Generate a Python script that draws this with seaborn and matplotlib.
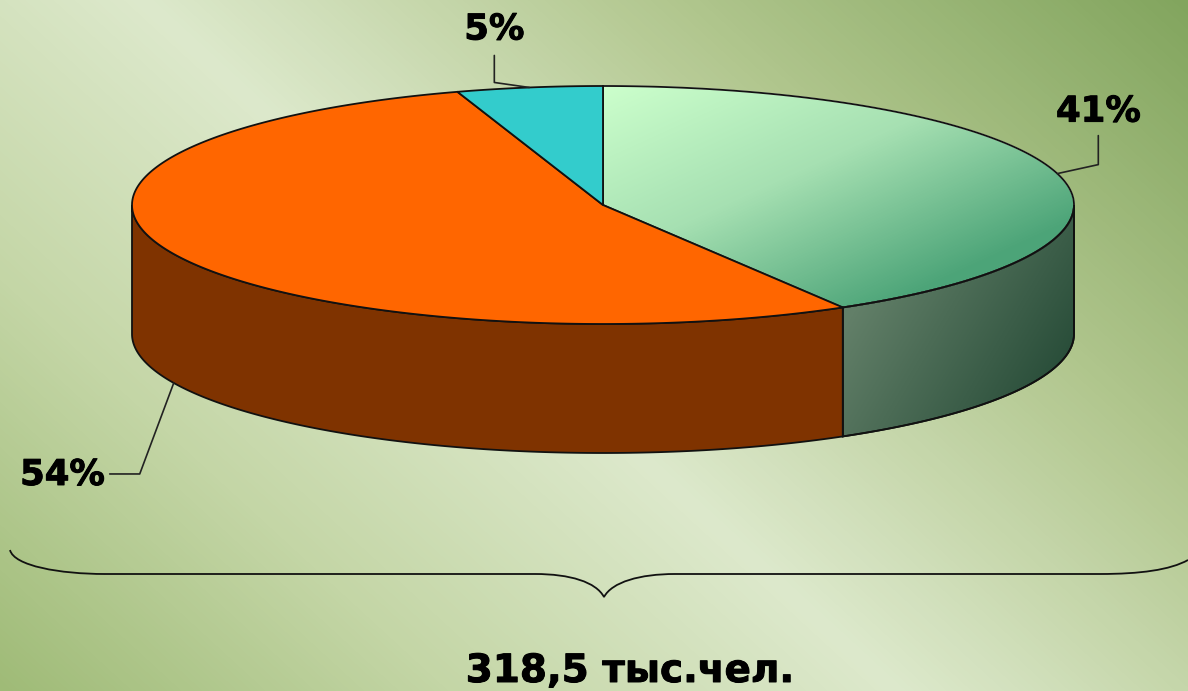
import numpy as np
import matplotlib.pyplot as plt
import matplotlib.patheffects as pe
from matplotlib.patches import PathPatch, Polygon
from matplotlib.path import Path
import seaborn as sns

# chart data (slice sizes as measured on the picture, labels as printed)
shares = [41.5, 53.5, 5]
share_labels = ["41%", "54%", "5%"]
total_label = "318,5 тыс.чел."

# pie geometry, in pixels
CX, CY = 603, 205
RX, RY = 471, 119
DEPTH = 129
W, H = 1188, 691

sns.set_theme(style="white")
plt.rcParams['font.family'] = ['DejaVu Sans']

heavy = [pe.withStroke(linewidth=0.7, foreground="black")]


def rim(t, depth=0):
    '''Point(s) on the ellipse, t in degrees clockwise from the top.'''
    t = np.radians(t)
    return np.column_stack([CX + RX * np.sin(t), CY - RY * np.cos(t) + depth])


def gradient(ax, cmap, a, b, lo, hi, clip=None):
    '''Linear gradient on u = a*x + b*y, optionally clipped to a patch.'''
    xx, yy = np.meshgrid(np.arange(W), np.arange(H))
    im = ax.imshow(a * xx + b * yy, cmap=cmap, vmin=lo, vmax=hi, aspect='auto',
                   extent=(0, W, H, 0), interpolation='bilinear', zorder=1)
    if clip is not None:
        im.set_clip_path(clip)
    return im


def label(x, y, s, ha='center'):
    ax.text(x, y, s, ha=ha, va='baseline', fontsize=25.5, fontweight='bold',
            color="black", path_effects=heavy, zorder=6)


fig = plt.figure(figsize=(W / 100, H / 100), dpi=100)
ax = fig.add_axes([0, 0, 1, 1])

# background: light band running down-right, darker at both far corners
bg_cmap = sns.blend_palette(["#9FBB77", "#C4D6A6", "#DDE9CC", "#B2C78F", "#82A55E"], as_cmap=True)
xx, yy = np.meshgrid(np.arange(W), np.arange(H))
u = xx - 1.09 * yy
u = np.where(u < 145, (u + 754) / 899 * 0.5, 0.5 + (u - 145) / 1043 * 0.5)
ax.imshow(u, cmap=bg_cmap, vmin=0, vmax=1, aspect='auto', extent=(0, W, H, 0), zorder=0)

edges = np.cumsum([0] + shares) / sum(shares) * 360
mids = (edges[:-1] + edges[1:]) / 2
line = dict(edgecolor="#111111", linewidth=1.3)

# side walls (only the front half of the rim shows)
t_green = np.linspace(90, edges[1], 80)
side_green = Polygon(np.vstack([rim(t_green), rim(t_green[::-1], DEPTH)]),
                     facecolor='none', zorder=2, **line)
ax.add_patch(side_green)
side_cmap = sns.blend_palette(["#627F68", "#254A36"], as_cmap=True)
gradient(ax, side_cmap, 1, 0.6, 1040, 1300, clip=side_green)
ax.add_patch(Polygon(side_green.get_xy(), fill=False, zorder=3, **line))

t_orange = np.linspace(edges[1], 270, 160)
ax.add_patch(Polygon(np.vstack([rim(t_orange), rim(t_orange[::-1], DEPTH)]),
                     facecolor="#7F3300", zorder=3, **line))

# top slices
top_colors = [None, "#FF6600", "#33CCCC"]
for i, color in enumerate(top_colors):
    t = np.linspace(edges[i], edges[i + 1], 200)
    pts = np.vstack([[CX, CY], rim(t)])
    if color is None:
        slice_patch = Polygon(pts, facecolor='none', zorder=2)
        ax.add_patch(slice_patch)
        top_cmap = sns.blend_palette(["#CCFFCC", "#A6E0B2", "#4CA478"], as_cmap=True)
        gradient(ax, top_cmap, 1, 2.2, 790, 1560, clip=slice_patch)
        ax.add_patch(Polygon(pts, fill=False, zorder=4, **line))
    else:
        ax.add_patch(Polygon(pts, facecolor=color, zorder=4, **line))

# leader lines and labels
leader_color = "#222222"
tip = rim(mids[0])[0]
ax.plot([tip[0], tip[0] + 41, tip[0] + 41], [tip[1], tip[1] - 9, tip[1] - 38],
        color=leader_color, lw=1.2, zorder=5)
label(tip[0] + 41, tip[1] - 52, share_labels[0])

tip = rim(mids[1], DEPTH)[0]
ax.plot([tip[0], tip[0] - 34, tip[0] - 64], [tip[1], tip[1] + 91, tip[1] + 91],
        color=leader_color, lw=1.2, zorder=5)
label(tip[0] - 69, tip[1] + 102, share_labels[1], ha='right')

tip = rim(mids[2])[0]
ax.plot([tip[0], tip[0] - 35, tip[0] - 35], [tip[1], tip[1] - 5, tip[1] - 32],
        color=leader_color, lw=1.2, zorder=5)
label(tip[0] - 35, tip[1] - 48, share_labels[2])

# brace under the pie
brace = [(Path.MOVETO, (10, 550)),
         (Path.CURVE4, (14, 566)), (Path.CURVE4, (60, 574)), (Path.CURVE4, (105, 574)),
         (Path.LINETO, (535, 574)),
         (Path.CURVE4, (570, 574)), (Path.CURVE4, (596, 582)), (Path.CURVE4, (604, 597)),
         (Path.CURVE4, (612, 582)), (Path.CURVE4, (640, 574)), (Path.CURVE4, (675, 574)),
         (Path.LINETO, (1100, 574)),
         (Path.CURVE4, (1140, 574)), (Path.CURVE4, (1170, 570)), (Path.CURVE4, (1188, 560))]
codes, verts = [], []
for c, v in brace:
    codes.append(c)
    verts.append(v)
ax.add_patch(PathPatch(Path(verts, codes), fill=False, edgecolor="#111111", lw=1.3, zorder=5))

ax.text(630, 682, total_label, ha='center', va='baseline', fontsize=28,
        fontweight='bold', color="black", path_effects=heavy, zorder=6)

ax.set_xlim(0, W)
ax.set_ylim(H, 0)
ax.axis('off')
fig.savefig("out.png", dpi=100)
